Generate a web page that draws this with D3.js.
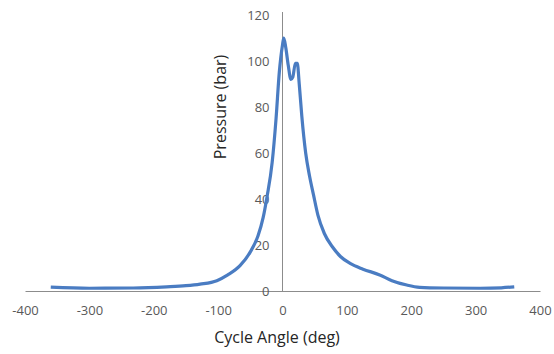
<!DOCTYPE html>
<meta charset="utf-8">
<style>
    body { margin: 0; background: #fff; }
    text { font-family: "Open Sans", sans-serif; }
    .tick text { fill: #595959; font-size: 13px; }
    .title { fill: #262626; font-size: 16px; }
</style>
<body>
<div id="chart"></div>
<script src="https://d3js.org/d3.v7.min.js"></script>
<script>

    // crank angle (deg) and cylinder pressure (bar)
    var angle = [-360, -300, -232, -180, -150, -128, -102, -85, -66, -50, -38, -30, -24, -16, -10, -5,
                 0, 2, 5, 9, 13, 16, 20, 23, 26, 30, 36, 42, 48, 55, 65, 78, 90, 105, 125, 151,
                 170, 193, 213, 250, 307, 340, 360];
    var pressure = [1.7, 1.2, 1.3, 1.8, 2.3, 3, 4.5, 7, 11, 17, 24, 32, 41, 56, 75, 95,
                    107, 110, 106, 98, 92, 93, 99, 99, 90, 76, 60, 50, 42, 33, 25, 19, 15, 12, 9.5, 7,
                    4.5, 2.6, 1.6, 1.3, 1.2, 1.4, 1.8];
    var xTicks = [-400, -300, -200, -100, 0, 100, 200, 300, 400];
    var yTicks = [0, 20, 40, 60, 80, 100, 120];

    var svg_dx = 554, svg_dy = 354;

    var x = d3.scaleLinear().domain([-400, 400]).range([25, 540]),
        y = d3.scaleLinear().domain([0, 120]).range([291, 15]);

    var svg = d3.select("#chart")
                .append("svg")
                .attr("width", svg_dx)
                .attr("height", svg_dy);

    // x axis along y = 0, plain hyphen for negatives like the source
    var axis_x = svg.append("g")
       .attr("transform", "translate(0," + y(0) + ")")
       .call(d3.axisBottom(x).tickValues(xTicks).tickFormat(d => String(d))
                             .tickSize(0).tickPadding(15));
    axis_x.select(".domain").attr("stroke", "#8c8c8c");

    // y axis along x = 0
    var axis_y = svg.append("g")
       .attr("transform", "translate(" + x(0) + ",0)")
       .call(d3.axisLeft(y).tickValues(yTicks).tickSize(0).tickPadding(13));
    axis_y.select(".domain").attr("stroke", "#8c8c8c")
          .attr("d", "M0," + (y(0)) + "V" + (y(120) - 3));

    svg.append("text")
       .attr("class", "title")
       .attr("text-anchor", "middle")
       .attr("x", 277)
       .attr("y", 343)
       .text("Cycle Angle (deg)");

    svg.append("text")
       .attr("class", "title")
       .attr("text-anchor", "middle")
       .attr("transform", "translate(226,107) rotate(-90)")
       .text("Pressure (bar)");

    var line = d3.line()
                 .x(i => x(angle[i]))
                 .y(i => y(pressure[i]))
                 .curve(d3.curveMonotoneX);

    svg.append("path")
       .attr("d", line(d3.range(angle.length)))
       .attr("fill", "none")
       .attr("stroke", "#4a7cc2")
       .attr("stroke-width", 3.2)
       .attr("stroke-linejoin", "round");

</script>
</body>
